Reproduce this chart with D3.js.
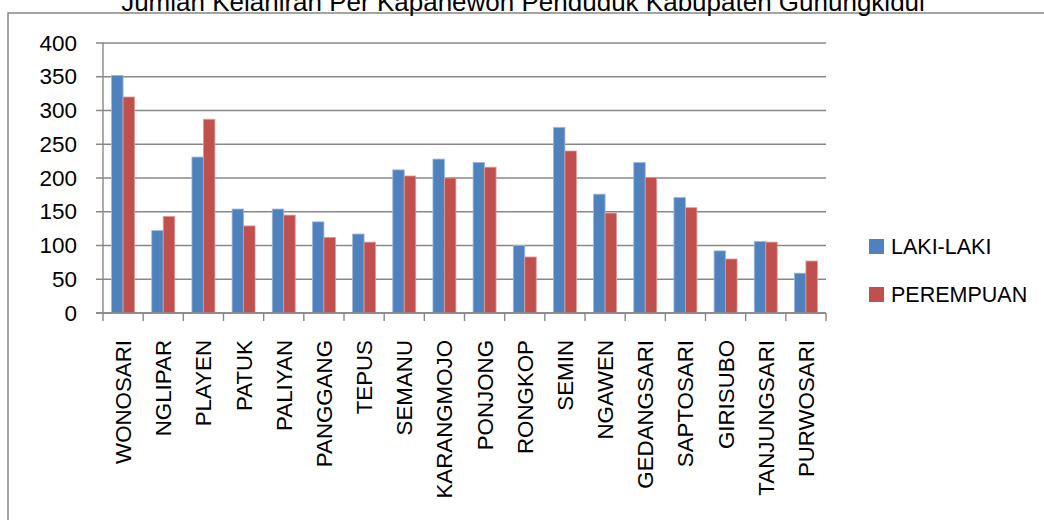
<!DOCTYPE html>
<html>
<head>
  <meta charset="utf-8">
  <title>Jumlah Kelahiran Per Kapanewon</title>
  <style>
    body { margin: 0; background: #fff; }
    svg { display: block; font-family: "Liberation Sans", Arial, sans-serif; }
  </style>
</head>
<body>
  <div id="chart"></div>

  <script src="https://d3js.org/d3.v7.min.js"></script>
  <script>
    // Data kelahiran per kapanewon
    const kapanewon = ["WONOSARI", "NGLIPAR", "PLAYEN", "PATUK", "PALIYAN", "PANGGANG",
      "TEPUS", "SEMANU", "KARANGMOJO", "PONJONG", "RONGKOP", "SEMIN", "NGAWEN",
      "GEDANGSARI", "SAPTOSARI", "GIRISUBO", "TANJUNGSARI", "PURWOSARI"];
    const lakiLaki = [352, 122, 231, 154, 154, 135, 117, 212, 228, 223, 100, 275, 176, 223, 171, 92, 106, 59];
    const perempuan = [320, 143, 287, 129, 145, 112, 105, 203, 200, 216, 83, 240, 148, 201, 156, 80, 105, 77];
    const seriesNames = ["LAKI-LAKI", "PEREMPUAN"];
    const seriesColors = ["#4F81BD", "#C0504D"];
    const seriesEdge = ["#9cb7dc", "#dc9a98"];
    const yTicks = [0, 50, 100, 150, 200, 250, 300, 350, 400];

    const width = 1044, height = 520;
    const plot = { left: 103, right: 826, top: 43, bottom: 313 };
    const gray = "#878787";

    const svg = d3.select("#chart").append("svg")
      .attr("width", width)
      .attr("height", height);

    // Bingkai chart (terpotong di kanan & bawah)
    svg.append("rect")
      .attr("x", 8).attr("y", 13)
      .attr("width", width + 20).attr("height", height + 20)
      .attr("fill", "none")
      .attr("stroke", gray)
      .attr("stroke-width", 1.5);

    // Judul
    svg.append("text")
      .attr("x", 523).attr("y", 11)
      .attr("text-anchor", "middle")
      .attr("font-size", 26)
      .attr("fill", "#000")
      .text("Jumlah Kelahiran Per Kapanewon  Penduduk Kabupaten Gunungkidul");

    // Skala
    const x = d3.scaleBand().domain(kapanewon).range([plot.left, plot.right]).padding(0);
    const x1 = d3.scaleBand().domain(seriesNames).range([0, x.bandwidth()])
      .paddingInner(0).paddingOuter(0.75);
    const y = d3.scaleLinear().domain([0, 400]).range([plot.bottom, plot.top]);

    // Garis grid + tick kiri
    svg.append("g").selectAll("line")
      .data(yTicks)
      .join("line")
      .attr("x1", plot.left - 7).attr("x2", plot.right)
      .attr("y1", d => y(d)).attr("y2", d => y(d))
      .attr("stroke", gray)
      .attr("stroke-width", 1.4);

    // Label sumbu Y
    svg.append("g")
      .attr("transform", `translate(${plot.left},0)`)
      .call(d3.axisLeft(y).tickValues(yTicks).tickSize(0).tickPadding(26))
      .call(g => g.select(".domain").remove())
      .call(g => g.selectAll("text")
        .attr("font-family", "Liberation Sans, Arial, sans-serif")
        .attr("font-size", 22.5)
        .attr("fill", "#000"));

    // Batang
    const rows = kapanewon.map((k, i) => ({ k, vals: [lakiLaki[i], perempuan[i]] }));
    const groups = svg.append("g").selectAll("g")
      .data(rows)
      .join("g")
      .attr("transform", d => `translate(${x(d.k)},0)`);

    groups.selectAll("rect")
      .data(d => d.vals.map((v, s) => ({ v, s })))
      .join("rect")
      .attr("x", d => x1(seriesNames[d.s]))
      .attr("y", d => y(d.v))
      .attr("width", x1.bandwidth())
      .attr("height", d => y(0) - y(d.v))
      .attr("fill", d => seriesColors[d.s])
      .attr("stroke", d => seriesEdge[d.s])
      .attr("stroke-width", 0.8);

    // Sumbu Y (garis vertikal)
    svg.append("line")
      .attr("x1", plot.left).attr("x2", plot.left)
      .attr("y1", plot.top).attr("y2", plot.bottom)
      .attr("stroke", gray).attr("stroke-width", 1.4);

    // Sumbu X dengan tick di batas kategori
    const xAxis = svg.append("g");
    xAxis.append("line")
      .attr("x1", plot.left - 7).attr("x2", plot.right)
      .attr("y1", plot.bottom).attr("y2", plot.bottom)
      .attr("stroke", gray).attr("stroke-width", 1.4);
    const bounds = kapanewon.map(k => x(k)).concat([x.range()[1]]);
    xAxis.selectAll(".tk")
      .data(bounds)
      .join("line")
      .attr("class", "tk")
      .attr("x1", d => d).attr("x2", d => d)
      .attr("y1", plot.bottom).attr("y2", plot.bottom + 8)
      .attr("stroke", gray).attr("stroke-width", 1.4);

    // Label kategori (vertikal)
    xAxis.selectAll(".lbl")
      .data(kapanewon)
      .join("text")
      .attr("class", "lbl")
      .attr("transform", d => `translate(${x(d) + x.bandwidth() / 2},340) rotate(-90)`)
      .attr("text-anchor", "end")
      .attr("dy", "0.36em")
      .attr("font-size", 22.3)
      .attr("fill", "#000")
      .text(d => d);

    // Legenda
    const legend = svg.append("g").selectAll("g")
      .data(seriesNames)
      .join("g")
      .attr("transform", (d, i) => `translate(869,${239 + i * 48})`);
    legend.append("rect")
      .attr("width", 15).attr("height", 15)
      .attr("fill", (d, i) => seriesColors[i]);
    legend.append("text")
      .attr("x", 22).attr("y", 15)
      .attr("font-size", 21.5)
      .attr("fill", "#000")
      .text(d => d);
  </script>
</body>
</html>
